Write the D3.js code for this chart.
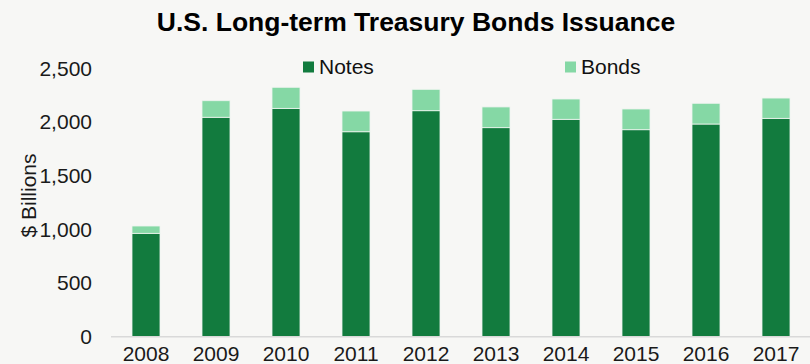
<!DOCTYPE html>
<html>
<head>
<meta charset="utf-8">
<script src="https://cdn.jsdelivr.net/npm/d3@7"></script>
<style>
  html, body { margin: 0; padding: 0; background: #f7f7f5; }
  svg { display: block; font-family: "Liberation Sans", Arial, sans-serif; }
</style>
</head>
<body>
<svg id="chart" width="810" height="364"></svg>
<script>
// Annual issuance, $ billions
const years = ["2008", "2009", "2010", "2011", "2012", "2013", "2014", "2015", "2016", "2017"];
const notes = [963, 2044, 2127, 1909, 2105, 1947, 2025, 1928, 1981, 2034];
const bonds = [68, 154, 196, 193, 199, 193, 189, 193, 193, 189];
const seriesNames = ["Notes", "Bonds"];
const yTicks = [0, 500, 1000, 1500, 2000, 2500];

const colors = { Notes: "#127b3e", Bonds: "#85d8a5" };

const svg = d3.select("#chart");

const x = d3.scaleBand()
  .domain(years)
  .range([111, 811])
  .paddingInner(0.6)
  .paddingOuter(0.3);

const y = d3.scaleLinear()
  .domain([0, 2500])
  .range([336.7, 68.3]);

// Stack table built from the series arrays
const rows = years.map((yr, i) => ({ year: yr, Notes: notes[i], Bonds: bonds[i] }));
const stacked = d3.stack().keys(seriesNames)(rows);

// Title
svg.append("text")
  .attr("x", 416)
  .attr("y", 31)
  .attr("text-anchor", "middle")
  .attr("font-size", 26.5)
  .attr("font-weight", "bold")
  .attr("fill", "#000")
  .text("U.S. Long-term Treasury Bonds Issuance");

// Y axis (labels only)
const yAxis = d3.axisLeft(y)
  .tickValues(yTicks)
  .tickFormat(d3.format(","))
  .tickSize(0)
  .tickPadding(0);

const yg = svg.append("g")
  .attr("transform", "translate(92,0)")
  .call(yAxis);
yg.select(".domain").remove();
yg.selectAll("text")
  .attr("font-size", 21)
  .attr("fill", "#1a1a1a")
  .attr("font-family", "'Liberation Sans', Arial, sans-serif");

// Y axis title
svg.append("text")
  .attr("transform", "translate(36,195.5) rotate(-90)")
  .attr("text-anchor", "middle")
  .attr("font-size", 21)
  .attr("fill", "#1a1a1a")
  .text("$ Billions");

// Stacked bars
svg.append("g")
  .selectAll("g")
  .data(stacked)
  .join("g")
  .attr("fill", d => colors[d.key])
  .selectAll("rect")
  .data(d => d)
  .join("rect")
  .attr("x", d => x(d.data.year))
  .attr("width", x.bandwidth())
  .attr("y", d => y(d[1]))
  .attr("height", d => y(d[0]) - y(d[1]))
  .attr("stroke", "#eef4ef")
  .attr("stroke-width", 0.8);

// Baseline
svg.append("line")
  .attr("x1", 111)
  .attr("x2", 810)
  .attr("y1", y(0))
  .attr("y2", y(0))
  .attr("stroke", "#d9d9d9")
  .attr("stroke-width", 1.5);

// X axis labels
const xAxis = d3.axisBottom(x).tickSize(0).tickPadding(0);
const xg = svg.append("g")
  .attr("transform", `translate(0,${y(0) + 9.5})`)
  .call(xAxis);
xg.select(".domain").remove();
xg.selectAll("text")
  .attr("font-size", 21)
  .attr("fill", "#1a1a1a")
  .attr("font-family", "'Liberation Sans', Arial, sans-serif");

// Legend
const legendPos = { Notes: 303, Bonds: 565 };
const legend = svg.append("g");
seriesNames.forEach(name => {
  const lx = legendPos[name];
  legend.append("rect")
    .attr("x", lx)
    .attr("y", 61.5)
    .attr("width", 11)
    .attr("height", 11)
    .attr("fill", colors[name]);
  legend.append("text")
    .attr("x", lx + 16)
    .attr("y", 74)
    .attr("font-size", 21)
    .attr("fill", "#111")
    .text(name);
});
</script>
</body>
</html>
